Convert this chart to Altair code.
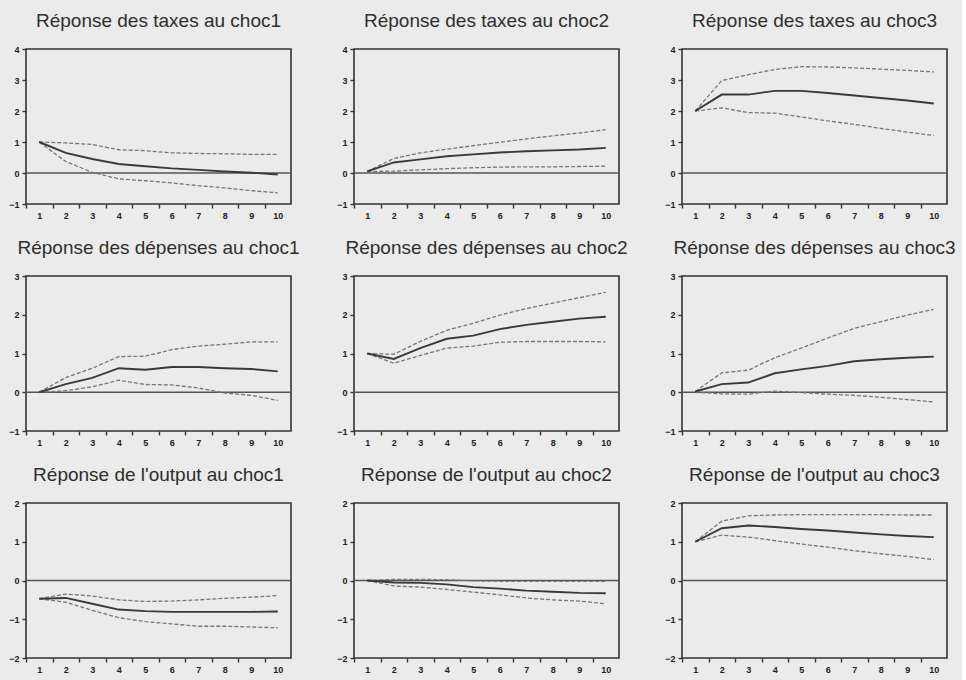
import altair as alt
import pandas as pd

# Horizons of the impulse responses
steps = list(range(1, 11))

# Réponse des taxes
taxes_choc1_resp = [1.00, 0.65, 0.45, 0.29, 0.22, 0.15, 0.10, 0.05, 0.01, -0.05]
taxes_choc1_haut = [1.00, 0.97, 0.92, 0.75, 0.72, 0.65, 0.63, 0.62, 0.60, 0.60]
taxes_choc1_bas = [1.00, 0.37, 0.02, -0.19, -0.25, -0.32, -0.41, -0.48, -0.57, -0.64]

taxes_choc2_resp = [0.05, 0.34, 0.44, 0.54, 0.60, 0.66, 0.70, 0.73, 0.76, 0.81]
taxes_choc2_haut = [0.05, 0.47, 0.65, 0.77, 0.88, 0.99, 1.10, 1.20, 1.29, 1.40]
taxes_choc2_bas = [0.05, 0.06, 0.10, 0.14, 0.17, 0.19, 0.20, 0.20, 0.21, 0.22]

taxes_choc3_resp = [2.00, 2.53, 2.53, 2.65, 2.65, 2.58, 2.50, 2.42, 2.34, 2.24]
taxes_choc3_haut = [2.00, 2.98, 3.17, 3.34, 3.43, 3.42, 3.39, 3.35, 3.31, 3.26]
taxes_choc3_bas = [2.00, 2.10, 1.95, 1.93, 1.81, 1.68, 1.57, 1.44, 1.32, 1.21]

# Réponse des dépenses
dep_choc1_resp = [0.00, 0.21, 0.37, 0.62, 0.58, 0.65, 0.65, 0.62, 0.60, 0.54]
dep_choc1_haut = [0.00, 0.38, 0.62, 0.92, 0.93, 1.10, 1.19, 1.24, 1.30, 1.30]
dep_choc1_bas = [0.00, 0.04, 0.14, 0.31, 0.20, 0.19, 0.11, -0.02, -0.08, -0.21]

dep_choc2_resp = [1.00, 0.86, 1.14, 1.38, 1.46, 1.63, 1.74, 1.82, 1.90, 1.95]
dep_choc2_haut = [1.00, 0.98, 1.31, 1.60, 1.78, 1.99, 2.16, 2.30, 2.44, 2.58]
dep_choc2_bas = [1.00, 0.75, 0.95, 1.14, 1.19, 1.29, 1.31, 1.31, 1.31, 1.30]

dep_choc3_resp = [0.02, 0.21, 0.25, 0.49, 0.59, 0.68, 0.80, 0.85, 0.89, 0.92]
dep_choc3_haut = [0.02, 0.50, 0.57, 0.89, 1.14, 1.40, 1.65, 1.82, 1.99, 2.14]
dep_choc3_bas = [0.00, -0.04, -0.05, 0.03, -0.01, -0.05, -0.08, -0.13, -0.19, -0.25]

# Réponse de l'output
out_choc1_resp = [-0.47, -0.45, -0.60, -0.75, -0.79, -0.81, -0.81, -0.81, -0.81, -0.80]
out_choc1_haut = [-0.47, -0.35, -0.40, -0.50, -0.54, -0.53, -0.50, -0.46, -0.43, -0.39]
out_choc1_bas = [-0.47, -0.56, -0.77, -0.96, -1.06, -1.12, -1.18, -1.18, -1.20, -1.22]

out_choc2_resp = [0.00, -0.05, -0.06, -0.10, -0.17, -0.21, -0.26, -0.29, -0.32, -0.33]
out_choc2_haut = [0.00, 0.03, 0.03, 0.02, -0.01, -0.02, -0.02, -0.02, -0.02, -0.02]
out_choc2_bas = [0.00, -0.14, -0.17, -0.23, -0.30, -0.37, -0.45, -0.50, -0.53, -0.60]

out_choc3_resp = [1.00, 1.35, 1.42, 1.38, 1.33, 1.29, 1.24, 1.19, 1.15, 1.12]
out_choc3_haut = [1.00, 1.53, 1.67, 1.69, 1.70, 1.70, 1.70, 1.70, 1.69, 1.69]
out_choc3_bas = [1.00, 1.17, 1.12, 1.03, 0.94, 0.86, 0.77, 0.69, 0.62, 0.54]

FONT = "Liberation Sans"
PANEL_W = 265
PANEL_H = 155
HALF_STEP = PANEL_W / 10 / 2


def panel(title, resp, haut, bas, y_min, y_max):
    df = pd.DataFrame({
        "step": steps * 3,
        "val": resp + haut + bas,
        "serie": ["resp"] * 10 + ["haut"] * 10 + ["bas"] * 10,
    })
    # ticks sit between horizons, labels sit under each horizon
    x = alt.X(
        "step:Q",
        scale=alt.Scale(domain=[0.5, 10.5], nice=False, zero=False),
        axis=alt.Axis(
            values=list(range(1, 12)),
            tickOffset=-HALF_STEP,
            labelOffset=HALF_STEP,
            labelExpr="datum.value > 10 ? '' : datum.label",
            labelFlush=False,
            labelOverlap=False,
            title=None,
        ),
    )
    y = alt.Y(
        "val:Q",
        scale=alt.Scale(domain=[y_min, y_max], nice=False, zero=False),
        axis=alt.Axis(values=list(range(y_min, y_max + 1)), title=None,
                      labelFlush=False, labelOverlap=False),
    )
    zero = alt.Chart(pd.DataFrame({"val": [0]})).mark_rule(
        color="#555555", strokeWidth=1.3
    ).encode(y=y)
    bands = alt.Chart(df).transform_filter(
        "datum.serie != 'resp'"
    ).mark_line(color="#777777", strokeWidth=1.3, strokeDash=[4, 2]).encode(
        x=x, y=y, detail="serie:N"
    )
    line = alt.Chart(df).transform_filter(
        "datum.serie == 'resp'"
    ).mark_line(color="#3a3a3a", strokeWidth=1.9).encode(x=x, y=y)
    return alt.layer(zero, bands, line).properties(
        width=PANEL_W,
        height=PANEL_H,
        title=alt.TitleParams(title, fontSize=19, font=FONT, fontWeight="normal",
                              color="#2e2e2e", offset=14, anchor="middle"),
    )


panels = [
    panel("Réponse des taxes au choc1", taxes_choc1_resp, taxes_choc1_haut, taxes_choc1_bas, -1, 4),
    panel("Réponse des taxes au choc2", taxes_choc2_resp, taxes_choc2_haut, taxes_choc2_bas, -1, 4),
    panel("Réponse des taxes au choc3", taxes_choc3_resp, taxes_choc3_haut, taxes_choc3_bas, -1, 4),
    panel("Réponse des dépenses au choc1", dep_choc1_resp, dep_choc1_haut, dep_choc1_bas, -1, 3),
    panel("Réponse des dépenses au choc2", dep_choc2_resp, dep_choc2_haut, dep_choc2_bas, -1, 3),
    panel("Réponse des dépenses au choc3", dep_choc3_resp, dep_choc3_haut, dep_choc3_bas, -1, 3),
    panel("Réponse de l'output au choc1", out_choc1_resp, out_choc1_haut, out_choc1_bas, -2, 2),
    panel("Réponse de l'output au choc2", out_choc2_resp, out_choc2_haut, out_choc2_bas, -2, 2),
    panel("Réponse de l'output au choc3", out_choc3_resp, out_choc3_haut, out_choc3_bas, -2, 2),
]

chart = alt.concat(
    *panels, columns=3, spacing={"row": 72, "column": 63}, bounds="flush"
).properties(
    background="#ebebeb",
    padding={"left": 7, "top": 11, "right": 5, "bottom": 5},
).configure_view(
    stroke="#333333", strokeWidth=1.6
).configure_axis(
    domain=False,
    grid=False,
    ticks=True,
    tickSize=4,
    tickColor="#333333",
    tickWidth=1.4,
    labelFont=FONT,
    labelFontSize=9,
    labelFontWeight="bold",
    labelColor="#222222",
    labelPadding=3,
)

chart.save("out.html", embed_options={"renderer": "svg", "actions": False})
